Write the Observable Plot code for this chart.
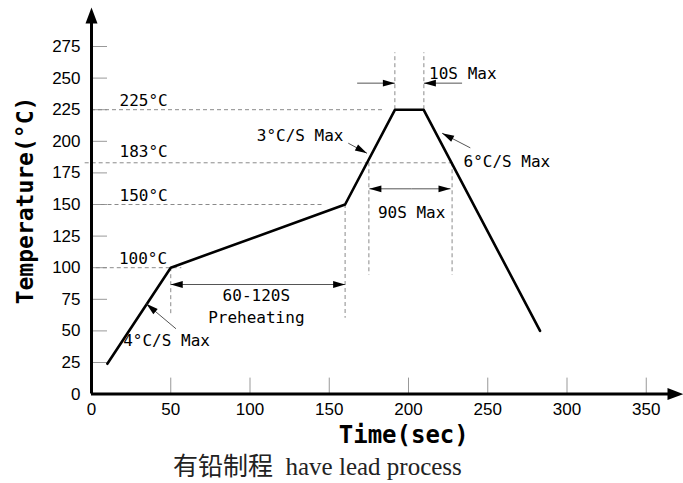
<!DOCTYPE html>
<html><head><meta charset="utf-8">
<script src="https://cdn.jsdelivr.net/npm/d3@7"></script>
<script src="https://cdn.jsdelivr.net/npm/@observablehq/plot@0.6"></script>
<style>
body{margin:0;background:#fff}
#cap{font-family:"Liberation Serif","Noto Sans CJK SC",serif;font-size:25px;line-height:28px;padding-left:173px;color:#222;white-space:pre}
</style>
</head><body>
<div id="chart"></div>
<div id="cap">有铅制程  have lead process</div>
<script>
// ---- data ----
const profileTime = [10, 50, 160, 191.5, 209.5, 283];
const profileTemp = [24, 100, 150, 225, 225, 50];

const xTicks = [0, 50, 100, 150, 200, 250, 300, 350];
const yTicks = [0, 25, 50, 75, 100, 125, 150, 175, 200, 225, 250, 275];

const refTemp  = [225, 183, 150, 100];
const refStart = [0, -4, 6, 3];
const refEnd   = [184, 227, 146, 57];
const refLabel = ["225°C", "183°C", "150°C", "100°C"];
const refLabelTime = [17.7, 17.7, 17.7, 17.3];
const refLabelTemp = [232, 191.4, 157, 107];

const vTime = [50, 160, 175, 227.5, 191.4, 209.7];
const vFrom = [100, 150, 183, 183, 225, 225];
const vTo   = [62, 60, 94, 94, 270, 270];

const segX1 = [167.6, 233.8, 202, 202, 105, 105, 53.3, 162, 239];
const segY1 = [246, 246, 162.4, 162.4, 86.7, 86.7, 51.7, 198.5, 194.8];
const segX2 = [191.4, 209.7, 175.3, 226.5, 50, 160, 34.6, 173.8, 221.2];
const segY2 = [246, 246, 162.4, 162.4, 86.7, 86.7, 71.4, 190.5, 206.4];

const noteText  = ["3°C/S Max", "6°C/S Max", "10S Max", "90S Max", "60-120S", "Preheating", "4°C/S Max"];
const noteTime  = [159, 234.7, 213, 202, 104, 104, 20];
const noteTemp  = [204, 183.5, 253.6, 143, 78, 60.6, 42.4];
const noteAlign = ["end", "start", "start", "middle", "middle", "middle", "start"];

// ---- layout ----
const W = 683, H = 453;
const X0 = 91, XMAX = 645.75, Y0 = 393.6, YMAX = 46;
const kx = (XMAX - X0) / 350, ky = (Y0 - YMAX) / 275;

const profile = profileTime.map((t, i) => ({t, v: profileTemp[i]}));
const refs = refTemp.map((v, i) => ({v, a: refStart[i], b: refEnd[i], label: refLabel[i], lt: refLabelTime[i], lv: refLabelTemp[i]}));
const vguides = vTime.map((t, i) => ({t, a: vFrom[i], b: vTo[i]}));
const segs = segX1.map((x1, i) => ({x1, y1: segY1[i], x2: segX2[i], y2: segY2[i],
  rot: Math.atan2(-(segY2[i] - segY1[i]) * ky, (segX2[i] - x1) * kx) * 180 / Math.PI}));
const notes = noteText.map((s, i) => ({s, t: noteTime[i], v: noteTemp[i], a: noteAlign[i]}));

const headSmall = {draw(ctx) { ctx.moveTo(0, 0); ctx.lineTo(-12, -3.4); ctx.lineTo(-12, 3.4); ctx.closePath(); }};
const headAxis  = {draw(ctx) { ctx.moveTo(0, 0); ctx.lineTo(-16, -6); ctx.lineTo(-16, 6); ctx.closePath(); }};

const xEnd = (676 - X0) / kx, xTip = (683 - X0) / kx;
const yEnd = (22 - Y0) / -ky, yTip = (7 - Y0) / -ky;

const mono = "DejaVu Sans Mono, monospace";
const dash = {stroke: "#8a8a8a", strokeWidth: 1, strokeDasharray: "4,3"};
const noteMarks = ["start", "middle", "end"].map(anchor =>
  Plot.text(notes.filter(d => d.a === anchor), {x: "t", y: "v", text: "s", textAnchor: anchor, fontFamily: mono, fontSize: 16}));

const chart = Plot.plot({
  width: W, height: H,
  marginLeft: X0, marginRight: W - XMAX, marginTop: YMAX, marginBottom: H - Y0,
  x: {domain: [0, 350]},
  y: {domain: [0, 275]},
  style: {fontFamily: "Liberation Sans, Arial, sans-serif", background: "#fff", color: "#000"},
  marks: [
    Plot.ruleY(yTicks.filter(d => d > 0), {x1: 0, x2: 16 / kx, stroke: "#999", strokeWidth: 1}),
    Plot.ruleX(xTicks.filter(d => d > 0), {y1: 0, y2: 16 / ky, stroke: "#999", strokeWidth: 1}),
    Plot.ruleY(refs, {y: "v", x1: "a", x2: "b", ...dash}),
    Plot.ruleX(vguides, {x: "t", y1: "a", y2: "b", ...dash}),
    Plot.axisX({ticks: xTicks, tickSize: 0, tickPadding: 9, fontSize: 17, label: null}),
    Plot.axisY({ticks: yTicks, tickSize: 0, tickPadding: 11, fontSize: 17, label: null}),
    Plot.ruleY([0], {x1: 0, x2: xEnd, stroke: "#000", strokeWidth: 3}),
    Plot.ruleX([0], {y1: 0, y2: yEnd, stroke: "#000", strokeWidth: 3}),
    Plot.dot([{t: xTip, v: 0, r: 0}, {t: 0, v: yTip, r: -90}], {x: "t", y: "v", rotate: "r", symbol: headAxis, fill: "#000", stroke: "none"}),
    Plot.line(profile, {x: "t", y: "v", stroke: "#000", strokeWidth: 2.6}),
    Plot.link(segs, {x1: "x1", y1: "y1", x2: "x2", y2: "y2", stroke: "#555", strokeWidth: 1}),
    Plot.dot(segs, {x: "x2", y: "y2", rotate: "rot", symbol: headSmall, fill: "#000", stroke: "none"}),
    Plot.text(refs, {x: "lt", y: "lv", text: "label", textAnchor: "start", fontFamily: mono, fontSize: 16}),
    ...noteMarks,
    Plot.text(["Time(sec)"], {x: 197, y: (Y0 - 435) / ky, fontFamily: mono, fontWeight: "bold", fontSize: 24}),
    Plot.text(["Temperature(°C)"], {x: (25 - X0) / kx, y: (Y0 - 200) / ky, rotate: -90, fontFamily: mono, fontWeight: "bold", fontSize: 23})
  ]
});
document.getElementById("chart").appendChild(chart);
</script>
</body></html>
